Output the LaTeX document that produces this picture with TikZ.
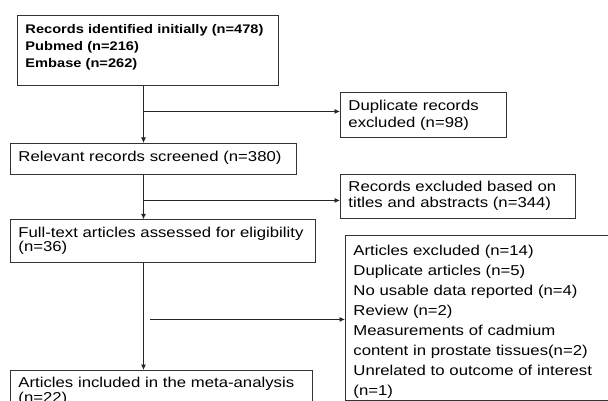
\documentclass[tikz,border=0pt]{standalone}
\usepackage{fontspec}
\setmainfont{Liberation Sans}[FakeStretch=1.17]
\usetikzlibrary{arrows.meta}
\tikzset{>={Latex[width=5pt,length=5.5pt]}}

\begin{document}
\begin{tikzpicture}[x=1pt, y=-1pt, box/.style={draw=black!80, line width=0.9pt, anchor=north west, align=left, inner xsep=8pt, inner ysep=0pt, font=\fontsize{14.3}{17}\selectfont}, link/.style={draw=black!85, line width=0.8pt}]
    \clip (0,0) rectangle (608,401);

    %Nodes
    \node[box, text width=245pt, text height=18.5pt, text depth=51.5pt, font=\bfseries\fontsize{12.5}{17}\selectfont](identified) at (17,15){Records identified initially (n=478)\\Pubmed (n=216)\\Embase (n=262)};
    \node[box, text width=150pt, text height=18pt, text depth=27pt](duplicates) at (340,92){Duplicate records\\excluded (n=98)};
    \node[box, text width=270pt, text height=17.7pt, text depth=13.3pt](screened) at (10,143){Relevant records screened (n=380)};
    \node[box, text width=219pt, text height=17pt, text depth=27pt, font=\fontsize{14.3}{16}\selectfont](titles) at (340,174){Records excluded based on\\titles and abstracts (n=344)};
    \node[box, text width=289pt, text height=17.4pt, text depth=25pt, font=\fontsize{14.3}{12.5}\selectfont](fulltext) at (10,219.3){Full-text articles assessed for eligibility\\(n=36)};
    \node[box, text width=259pt, text height=20pt, text depth=145pt, font=\fontsize{14.3}{20}\selectfont](excluded) at (345,235){Articles excluded (n=14)\\Duplicate articles (n=5)\\No usable data reported (n=4)\\Review (n=2)\\Measurements of cadmium\\content in prostate tissues(n=2)\\Unrelated to outcome of interest\\(n=1)};
    \node[box, text width=286pt, text height=17.3pt, text depth=45pt, font=\fontsize{14.3}{12.5}\selectfont](included) at (10,370){Articles included in the meta-analysis\\(n=22)};

    %Lines
    \coordinate (spine) at (143.5,0);
    \coordinate (gap) at ([xshift=6.5pt]spine);
    \coordinate (dupin) at ([yshift=3.5pt]duplicates.west);
    \coordinate (titlesin) at ([yshift=-4pt]titles.west);
    \coordinate (excludedin) at ([yshift=-1.5pt]excluded.west);
    \draw[link, ->] (spine |- identified.south) -- (spine |- screened.north);
    \draw[link, ->] (spine |- dupin) -- (dupin);
    \draw[link, ->] (spine |- screened.south) -- (spine |- fulltext.north);
    \draw[link, ->] (spine |- titlesin) -- (titlesin);
    \draw[link, ->] (spine |- fulltext.south) -- (spine |- included.north);
    \draw[link, ->] (gap |- excludedin) -- (excludedin);

\end{tikzpicture}
\end{document}
